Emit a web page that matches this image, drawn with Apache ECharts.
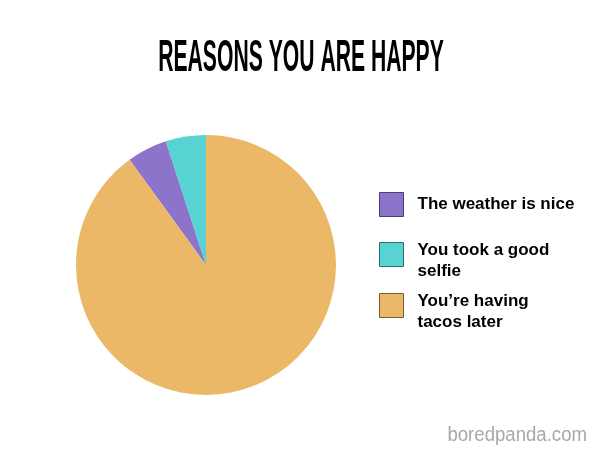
<!DOCTYPE html>
<html>
<head>
<meta charset="utf-8">
<script src="https://cdn.jsdelivr.net/npm/echarts@6/dist/echarts.min.js"></script>
<style>html,body{margin:0;padding:0;background:#fff}#c{width:605px;height:463px}</style>
</head>
<body>
<div id="c"></div>
<script>
const categories = ['The weather is nice', 'You took a good selfie', 'You\u2019re having tacos later'];
const legendLines = [['The weather is nice'], ['You took a good', 'selfie'], ['You\u2019re having', 'tacos later']];
const values = [5, 5, 90];
const colors = ['#8D74CB', '#57D3D3', '#EBB867'];
const borderColors = ['#4a3d73', '#2f6f6f', '#7a5f35'];
const titleText = 'REASONS YOU ARE HAPPY';
const watermark = 'boredpanda.com';

const chart = echarts.init(document.getElementById('c'), null, {renderer: 'canvas'});

const legendTops = [192, 233, 284];
const legends = categories.map((name, i) => ({
  orient: 'vertical',
  left: 379,
  top: legendTops[i],
  padding: 0,
  icon: 'rect',
  itemWidth: 24,
  itemHeight: 24,
  selectedMode: false,
  data: [{name: name, itemStyle: {borderColor: borderColors[i], borderWidth: 1}}],
  formatter: () => legendLines[i].length > 1
    ? '{s| }\n' + legendLines[i].map(l => '{a|' + l + '}').join('\n')
    : legendLines[i][0],
  textStyle: {
    fontFamily: 'Liberation Sans, Arial, sans-serif',
    fontWeight: 'bold',
    fontSize: 17,
    color: '#000',
    padding: [0, 0, 0, 9],
    rich: {
      s: {fontSize: 1, lineHeight: 13},
      a: {fontFamily: 'Liberation Sans, Arial, sans-serif', fontWeight: 'bold', fontSize: 17, color: '#000', lineHeight: 21}
    }
  }
}));

chart.setOption({
  animation: false,
  backgroundColor: '#fff',
  legend: legends,
  graphic: [
    {
      type: 'text',
      x: 301, y: 59,
      scaleX: 0.47,
      style: {
        text: titleText,
        font: 'bold 45px "Liberation Sans", Arial, sans-serif',
        fill: '#000',
        align: 'center', verticalAlign: 'middle',
        textAlign: 'center', textVerticalAlign: 'middle'
      }
    },
    {
      type: 'text',
      x: 587, y: 435,
      scaleX: 0.93,
      style: {
        text: watermark,
        font: '20px "Liberation Sans", Arial, sans-serif',
        fill: '#a8a8a8',
        align: 'right', verticalAlign: 'middle',
        textAlign: 'right', textVerticalAlign: 'middle'
      }
    }
  ],
  series: [{
    type: 'pie',
    center: [206, 265],
    radius: 130,
    startAngle: 126,
    clockwise: true,
    label: {show: false},
    labelLine: {show: false},
    emphasis: {disabled: true},
    itemStyle: {borderWidth: 0},
    data: categories.map((n, i) => ({name: n, value: values[i], itemStyle: {color: colors[i]}}))
  }]
});
</script>
</body>
</html>
